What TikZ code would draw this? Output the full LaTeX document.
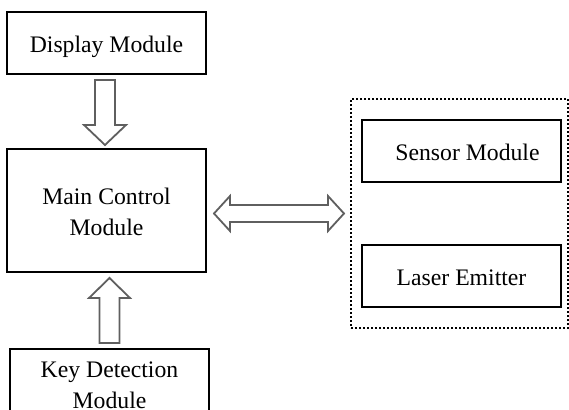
\documentclass[tikz,border=0pt]{standalone}
\usepackage{fontspec}
\setmainfont{Liberation Serif}
\usetikzlibrary{calc}
\definecolor{arrgray}{HTML}{5F5F5F}
\tikzset{
  box/.style={draw=black, line width=2pt, minimum width=199pt, inner sep=0pt, align=center, font=\fontsize{23.7}{31}\selectfont},
  onel/.style={text height=24pt, text depth=5pt},
  grp/.style={draw=black, line width=2pt, dotted, inner sep=0pt},
  fat/.style={draw=arrgray, line width=1.8pt, fill=white, line join=miter},
}
\begin{document}
\begin{tikzpicture}[x=1pt,y=-1pt]
\useasboundingbox (0,0) rectangle (569,409);
\node[box, onel, minimum height=62pt] (disp) at (106.5,43) {Display Module};
\node[box, minimum height=123pt] (main) at (106.5,210.5) {\raisebox{-3pt}[\height][\depth]{\begin{tabular}{@{}c@{}}Main Control\\Module\end{tabular}}};
\node[box, minimum height=72pt] (key) at (109.5,385) {Key Detection\\Module};
\node[grp, minimum width=217pt, minimum height=229pt] (grp) at (459.5,213.5) {};
\node[box, onel, minimum height=62pt] (sens) at (461.5,151) {\hspace*{12pt}Sensor Module};
\node[box, onel, minimum height=62pt] (laser) at (461.5,276) {Laser Emitter};
% down arrow
\draw[fat] ($(disp.south)+(-11.5,5)$) -- ($(disp.south)+(8.5,5)$) -- ($(main.north)+(8.5,-23)$) -- ($(main.north)+(19.5,-23)$) -- ($(main.north)+(-1.5,-3)$) -- ($(main.north)+(-22.5,-23)$) -- ($(main.north)+(-11.5,-23)$) -- cycle;
% up arrow
\coordinate (ut) at (main.south -| key.north);
\draw[fat] ($(key.north)+(-10,-5)$) -- ($(key.north)+(10,-5)$) -- ($(ut)+(10,25)$) -- ($(ut)+(20.5,25)$) -- ($(ut)+(0,5)$) -- ($(ut)+(-20.5,25)$) -- ($(ut)+(-10,25)$) -- cycle;
% double arrow
\coordinate (hl) at (main.east |- grp.west);
\draw[fat] ($(hl)+(7,0)$) -- ($(hl)+(23,-17.5)$) -- ($(hl)+(23,-8.5)$) -- ($(grp.west)+(-22,-8.5)$) -- ($(grp.west)+(-22,-17.5)$) -- ($(grp.west)+(-6,0)$) -- ($(grp.west)+(-22,17.5)$) -- ($(grp.west)+(-22,8.5)$) -- ($(hl)+(23,8.5)$) -- ($(hl)+(23,17.5)$) -- cycle;
\end{tikzpicture}
\end{document}
